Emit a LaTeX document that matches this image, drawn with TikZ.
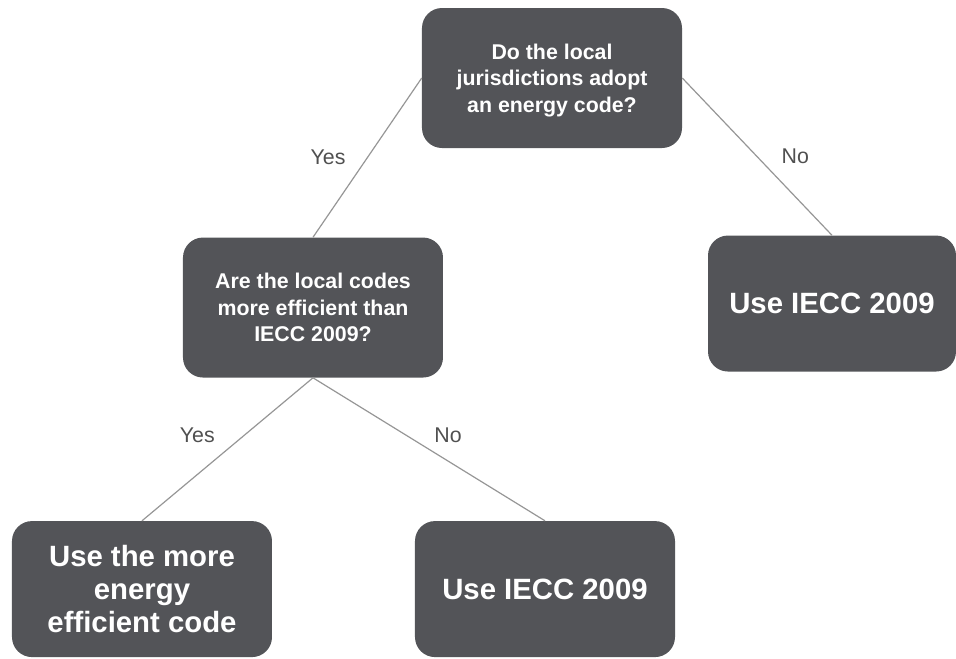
\documentclass[tikz,border=0pt]{standalone}
\usepackage{fontspec}
\setmainfont{Liberation Sans}
\usepackage{tikz}
\usetikzlibrary{positioning}
\definecolor{boxgrey}{RGB}{83,84,88}
\definecolor{linegrey}{RGB}{150,150,150}
\definecolor{txtgrey}{RGB}{80,80,80}
\tikzset{
  qbox/.style={rectangle, fill=boxgrey, text=white, align=center,
    minimum width=195pt, minimum height=105pt, rounded corners=15pt,
    font=\fontsize{16}{20}\selectfont\bfseries},
  endbox/.style={qbox, minimum height=102pt,
    font=\fontsize{22}{25}\selectfont\bfseries},
  answer/.style={inner sep=0pt, text=txtgrey, font=\fontsize{16}{19}\selectfont},
  line/.style={draw=linegrey, line width=0.9pt}
}
\begin{document}
\begin{tikzpicture}
  \useasboundingbox (-414pt,58.5pt) rectangle (303pt,-435pt);

  % --- questions ---
  \node[qbox, text depth=-6pt] (Q1) {Do the local\\jurisdictions adopt\\an energy code?};
  \node[qbox, below=66.75pt of Q1, xshift=-179.25pt] (Q2)
    {Are the local codes\\more efficient than\\IECC 2009?};

  % --- outcomes ---
  \node[endbox, minimum width=186pt, below=65.25pt of Q1, xshift=210pt] (R1) {Use IECC 2009};
  \node[endbox, below=107.25pt of Q2, xshift=-128.25pt] (R2)
    {Use the more\\energy\\efficient code};
  \node[endbox, below=107.25pt of Q2, xshift=174pt] (R3) {Use IECC 2009};

  % --- connectors ---
  \draw[line] (Q1.west) -- node[answer, pos=0.5, left=16pt] {Yes} (Q2.north);
  \draw[line] (Q1.east) -- node[answer, pos=0.5, right=18pt] {No} (R1.north);
  \draw[line] (Q2.south) -- node[answer, pos=0.4, left=22pt] {Yes} (R2.north);
  \draw[line] (Q2.south) -- node[answer, pos=0.4, right=21pt] {No} (R3.north);
\end{tikzpicture}
\end{document}
